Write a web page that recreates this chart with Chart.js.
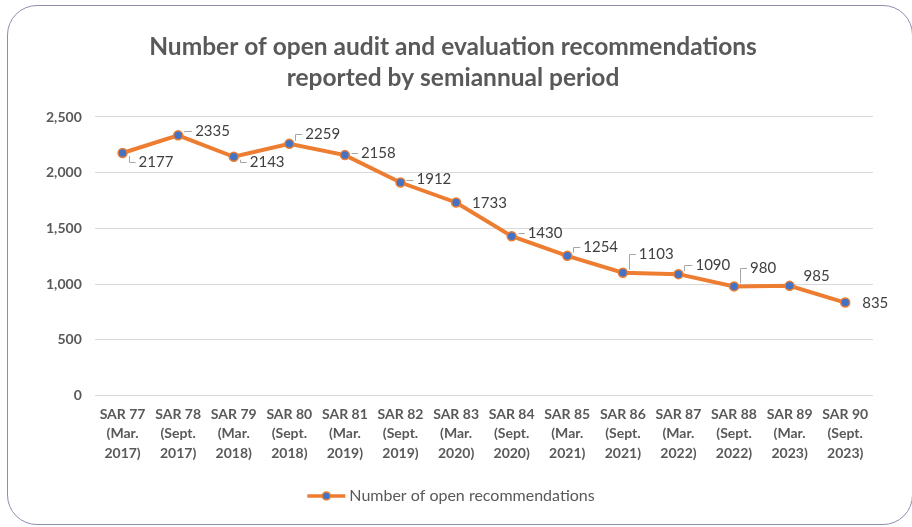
<!DOCTYPE html>
<html>
<head>
<meta charset="utf-8">
<script src="https://cdn.jsdelivr.net/npm/chart.js@4"></script>
<style>
    html, body { margin: 0; padding: 0; background: #fff; }
    #wrap { position: relative; width: 912px; height: 527px; overflow: hidden; }
    #frame {
        position: absolute; left: 7px; top: 5px; width: 906px; height: 520px;
        border: 1.5px solid #8e8eae; border-radius: 30px; box-sizing: border-box;
    }
    canvas { position: absolute; left: 0; top: 0; }
</style>
</head>
<body>
<div id="wrap">
    <div id="frame"></div>
    <canvas id="chart" width="912" height="527"></canvas>
</div>
<script>
// Chart data
const periods = [
    ['SAR 77', '(Mar.', '2017)'], ['SAR 78', '(Sept.', '2017)'],
    ['SAR 79', '(Mar.', '2018)'], ['SAR 80', '(Sept.', '2018)'],
    ['SAR 81', '(Mar.', '2019)'], ['SAR 82', '(Sept.', '2019)'],
    ['SAR 83', '(Mar.', '2020)'], ['SAR 84', '(Sept.', '2020)'],
    ['SAR 85', '(Mar.', '2021)'], ['SAR 86', '(Sept.', '2021)'],
    ['SAR 87', '(Mar.', '2022)'], ['SAR 88', '(Sept.', '2022)'],
    ['SAR 89', '(Mar.', '2023)'], ['SAR 90', '(Sept.', '2023)']
];
const openRecs = [2177, 2335, 2143, 2259, 2158, 1912, 1733, 1430, 1254, 1103, 1090, 980, 985, 835];
const yTicks = [0, 500, 1000, 1500, 2000, 2500];

// where each value label sits relative to its point (dx, dy, leader line?)
const labelSpots = [
    [16, 9, true], [17, -4, true], [16, 5, true], [16, -10, true], [16, -2, true],
    [16, -3, true], [16, 1, false], [16, -3, true], [16, -9, true], [16, -19, true],
    [17, -9, true], [16, -18, true], [14, -10, false], [17, 1, false]
];

const ORANGE = '#ED7D31';
const BLUE = '#4472C4';
const FONT = 'Lato, "Open Sans", sans-serif';

// legend marker: line with a dot
const marker = document.createElement('canvas');
marker.width = 40; marker.height = 12;
let mctx = marker.getContext('2d');
mctx.strokeStyle = ORANGE; mctx.lineWidth = 3.5;
mctx.beginPath(); mctx.moveTo(1, 6); mctx.lineTo(39, 6); mctx.stroke();
mctx.fillStyle = BLUE; mctx.strokeStyle = ORANGE; mctx.lineWidth = 1.5;
mctx.beginPath(); mctx.arc(20, 6, 4, 0, Math.PI * 2); mctx.fill(); mctx.stroke();

// Draw value labels with little leader lines
const valueLabels = {
    id: 'valueLabels',
    afterDatasetsDraw(chart) {
        const c = chart.ctx;
        const meta = chart.getDatasetMeta(0);
        c.save();
        c.font = '15px ' + FONT;
        c.textBaseline = 'middle';
        c.textAlign = 'left';
        meta.data.forEach((pt, i) => {
            const [dx, dy, leader] = labelSpots[i];
            const tx = pt.x + dx, ty = pt.y + dy;
            if (leader) {
                c.strokeStyle = '#a6a6a6';
                c.lineWidth = 1;
                const lx = Math.round(pt.x + 6) + 0.5;
                c.beginPath();
                if (Math.abs(dy) > 3) {
                    c.moveTo(lx, pt.y + (dy > 0 ? 3 : -3));
                    c.lineTo(lx, Math.round(ty) + 0.5);
                } else {
                    c.moveTo(lx, Math.round(ty) + 0.5);
                }
                c.lineTo(tx - 3, Math.round(ty) + 0.5);
                c.stroke();
            }
            c.fillStyle = '#404040';
            c.fillText(String(openRecs[i]), tx, ty);
        });
        c.restore();
    }
};

let ctx = document.getElementById('chart').getContext('2d');
let chart = new Chart(ctx, {
    type: 'line',
    data: {
        labels: periods,
        datasets: [{
            label: 'Number of open recommendations',
            data: openRecs,
            borderColor: ORANGE,
            borderWidth: 4,
            backgroundColor: BLUE,
            pointBackgroundColor: BLUE,
            pointBorderColor: ORANGE,
            pointBorderWidth: 1.5,
            pointRadius: 4.5,
            pointStyle: 'circle',
            tension: 0
        }]
    },
    options: {
        responsive: false,
        animation: false,
        layout: { padding: { left: 33, right: 39, top: 0, bottom: 13 } },
        plugins: {
            title: {
                display: true,
                text: ['Number of open audit and evaluation recommendations', 'reported by semiannual period'],
                color: '#595959',
                font: { family: FONT, size: 24.5, weight: 'bold', lineHeight: 1.265 },
                padding: { top: 31.5, bottom: 23.5 }
            },
            legend: {
                position: 'bottom',
                labels: {
                    usePointStyle: true,
                    pointStyle: marker,
                    pointStyleWidth: 30,
                    color: '#595959',
                    font: { family: FONT, size: 16 },
                    padding: 16
                }
            },
            tooltip: { enabled: false }
        },
        scales: {
            y: {
                min: 0, max: 2500,
                afterBuildTicks: axis => { axis.ticks = yTicks.map(v => ({ value: v })); },
                ticks: {
                    color: '#595959',
                    padding: 13,
                    font: { family: FONT, size: 14, weight: 'bold' },
                    callback: v => v.toLocaleString('en-US')
                },
                grid: { color: '#d9d9d9', drawTicks: false },
                border: { display: false }
            },
            x: {
                offset: true,
                afterFit: axis => { axis.height += 8; },
                ticks: {
                    color: '#595959',
                    padding: 1,
                    maxRotation: 0,
                    autoSkip: false,
                    font: { family: FONT, size: 14, weight: 'bold', lineHeight: 1.39 }
                },
                grid: { display: false },
                border: { display: false }
            }
        }
    },
    plugins: [valueLabels]
});
</script>
</body>
</html>
